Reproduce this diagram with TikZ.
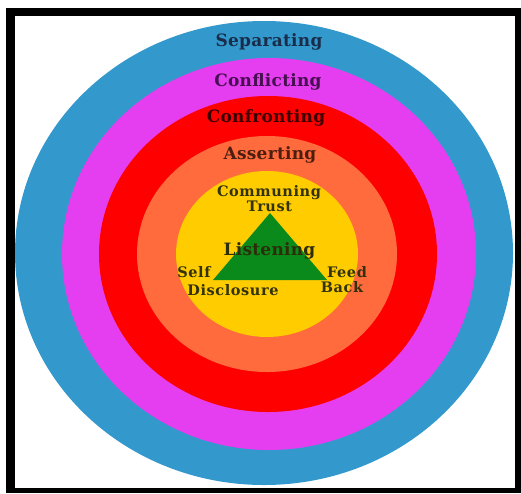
\documentclass[tikz,border=0pt]{standalone}
\usepackage{fontspec}
\usepackage{tikz}
\usetikzlibrary{positioning}
\newfontfamily\ringfont[LetterSpace=1.5]{DejaVu Serif}
\newfontfamily\corefont[LetterSpace=4]{DejaVu Serif}
\definecolor{sepblue}{HTML}{3399CC}
\definecolor{conmagenta}{HTML}{E43EF0}
\definecolor{confred}{HTML}{FF0000}
\definecolor{assorange}{HTML}{FF6B3D}
\definecolor{comyellow}{HTML}{FFCC00}
\definecolor{listgreen}{HTML}{0A8A1A}
\definecolor{coretext}{RGB}{50,50,12}

\begin{document}
\begin{tikzpicture}[x=1pt, y=-1pt,
			ringlabel/.style = {font=\fontsize{17}{17}\selectfont\ringfont\bfseries, inner sep=0pt, anchor=base},
			corelabel/.style = {font=\fontsize{14.5}{14.5}\selectfont\corefont\bfseries, inner sep=0pt, anchor=base, text=coretext},
		]

		\useasboundingbox (0,0) rectangle (521,493);
		% frame
		\fill[black] (6,8) rectangle (521,493);
		\fill[white] (15,16) rectangle (515,488);

		% rings
		\fill[sepblue] (264,253) ellipse [x radius=249, y radius=232];
		\fill[conmagenta] (269,254) ellipse [x radius=207, y radius=196];
		\fill[confred] (268,254) ellipse [x radius=169, y radius=158];
		\fill[assorange] (267,254) ellipse [x radius=130, y radius=118];
		\fill[comyellow] (267,254) ellipse [x radius=91, y radius=83];
		\fill[listgreen] (270,213) -- (327,280) -- (213,280) -- cycle;

		\node[ringlabel, text={rgb,255:red,25;green,45;blue,75}](sep) at (269,46){Separating};
		\node[ringlabel, text={rgb,255:red,70;green,15;blue,80}](conf) at (268,86){Conflicting};
		\node[ringlabel, text={rgb,255:red,60;green,0;blue,0}](confr) at (266,122){Confronting};
		\node[ringlabel, text={rgb,255:red,75;green,30;blue,15}](ass) at (270,159){Asserting};

		\node[corelabel](comm) at (269,196){Communing};
		\node[corelabel](trust) at (269.5,211){Trust};
		\node[ringlabel, text={rgb,255:red,45;green,45;blue,10}](list) at (269.5,255){Listening};
		\node[corelabel](self) at (194,277){Self};
		\node[corelabel](discl) at (233,295){Disclosure};
		\node[corelabel](feed) at (347,277){Feed};
		\node[corelabel](back) at (342,292){Back};
	\end{tikzpicture}
\end{document}
